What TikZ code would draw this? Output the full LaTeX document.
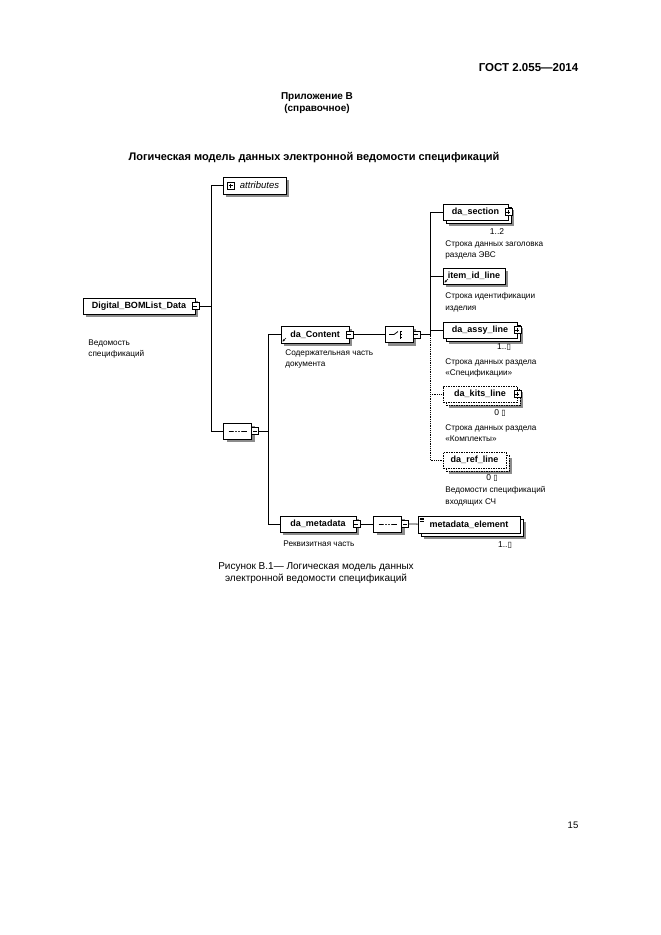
\documentclass[tikz,border=0pt]{standalone}
\usepackage{fontspec}
\setmainfont{Liberation Sans}
\newfontfamily\symfont{DejaVu Sans}
\usetikzlibrary{shapes.misc,arrows.meta,backgrounds}
\newcommand{\unbd}{{\symfont\fontsize{8}{9}\selectfont ▯}}

\begin{document}
\begin{tikzpicture}
        [x=1pt, y=-1pt, line width=0.8pt,
        box/.style={draw, fill=white, line width=0.8pt, minimum height=16pt, inner sep=2pt, font=\bfseries\fontsize{9}{10}\selectfont},
        elem/.style={box},
        many/.style={preaction={draw, fill=white, transform canvas={shift={(3pt,-3pt)}}}, box},
        optmany/.style={preaction={draw, fill=white, dash pattern=on 1.5pt off 1pt, transform canvas={shift={(3pt,-3pt)}}}, box, dash pattern=on 1.5pt off 1pt},
        btn/.style={draw, fill=white, minimum size=7pt, inner sep=0pt, line width=0.5pt},
        minus/.style={btn, path picture={\draw ([xshift=1.5pt]path picture bounding box.west) -- ([xshift=-1.5pt]path picture bounding box.east);}},
        plus/.style={btn, path picture={\draw ([xshift=1.5pt]path picture bounding box.west) -- ([xshift=-1.5pt]path picture bounding box.east);
            \draw ([yshift=-1.5pt]path picture bounding box.north) -- ([yshift=1.5pt]path picture bounding box.south);}},
        comp/.style={chamfered rectangle, chamfered rectangle angle=45, chamfered rectangle xsep=5pt, draw, fill=white, line width=0.8pt,
            minimum width=28pt, minimum height=16pt, inner sep=0pt},
        seq/.style={comp, path picture={
            \draw ([xshift=-9pt]path picture bounding box.center) -- ([xshift=9pt]path picture bounding box.center);
            \foreach \d in {-3,0,3} \fill ([xshift=\d pt]path picture bounding box.center) circle (1.2pt);}},
        choice/.style={comp, path picture={
            \coordinate (pc) at (path picture bounding box.center);
            \draw ([xshift=-10pt]pc) -- ([xshift=-5pt]pc) -- ([shift={(-1pt,3pt)}]pc);
            \draw ([shift={(1pt,-4pt)}]pc) -- ([shift={(1pt,4pt)}]pc);
            \foreach \d in {-3,0,3} {\draw ([shift={(1pt,\d pt)}]pc) -- ([shift={(5pt,\d pt)}]pc);
              \fill ([shift={(4pt,\d pt)}]pc) +(-1pt,-1pt) rectangle +(1pt,1pt);}}},
        refd/.style={path picture={\draw[-{Stealth[length=2.5pt,width=2.5pt]}, line width=0.6pt]
            ([shift={(5pt,5pt)}]path picture bounding box.south west) -- ([shift={(1.5pt,1.5pt)}]path picture bounding box.south west);}},
        datad/.style={path picture={\foreach \d in {2,3.5,5} \draw[line width=0.6pt]
            ([shift={(1.5pt,-\d pt)}]path picture bounding box.north west) -- ++(4pt,0pt);}},
        descr/.style={anchor=north west, align=left, inner sep=0pt, font=\fontsize{8.2}{11.3}\selectfont},
        mult/.style={inner sep=0pt, font=\fontsize{8.5}{9}\selectfont}]

        \useasboundingbox (0,0) rectangle (661,935);

        % page header and title
        \node[font=\bfseries\fontsize{11.5}{13}\selectfont, anchor=east] (gost) at (582,68) {ГОСТ 2.055—2014};
        \node[font=\bfseries\fontsize{10}{12}\selectfont, align=center] (annex) at (317,103) {Приложение В\\(справочное)};
        \node[font=\bfseries\fontsize{11}{13}\selectfont] (title) at (314,158) {Логическая модель данных электронной ведомости спецификаций};

        % root element
        \node[elem, minimum width=112pt] (root) at (139,306) {Digital\_BOMList\_Data};
        \node[minus] (rootx) at (root.east) {};
        \node[descr] at (88,339.5) {Ведомость\\спецификаций};

        \node[elem, font=\itshape\fontsize{9.5}{10}\selectfont, minimum width=63pt, minimum height=17pt] (attr) at (254.5,185.5) {\hspace*{10pt}attributes};
        \node[plus] (attrx) at ([xshift=8pt]attr.west) {};

        \node[seq] (seqa) at (237.5,431) {};
        \node[minus] (seqax) at ([xshift=3pt]seqa.east) {};

        % content part
        \node[elem, refd, minimum width=68pt, minimum height=17pt] (content) at (315,334.5) {da\_Content};
        \node[minus] (contentx) at (content.east) {};
        \node[descr] at (285,349.5) {Содержательная часть\\документа};
        \node[choice] (sel) at (399,334.5) {};
        \node[minus] (selx) at ([xshift=3pt]sel.east) {};

        \node[many, minimum width=65pt] (section) at (475.5,212) {da\_section};
        \node[plus] (sectionx) at (section.east) {};
        \node[mult] at (497,232) {1..2};
        \node[descr] at (445,240.5) {Строка данных заголовка\\раздела ЭВС};

        \node[elem, refd, minimum width=62pt] (item) at (474,276) {item\_id\_line};
        \node[descr] at (445,292.5) {Строка идентификации\\изделия};

        \node[many, minimum width=74pt] (assy) at (480,330) {da\_assy\_line};
        \node[plus] (assyx) at (assy.east) {};
        \node[mult] at (504,347) {1..\unbd};
        \node[descr] at (445,358.5) {Строка данных раздела\\«Спецификации»};

        \node[optmany, minimum width=74pt] (kits) at (480,394) {da\_kits\_line};
        \node[plus] (kitsx) at (kits.east) {};
        \node[mult] at (500,413) {0 \unbd};
        \node[descr] at (445,424.5) {Строка данных раздела\\«Комплекты»};

        \node[optmany, minimum width=63pt] (ref) at (474.5,460) {da\_ref\_line};
        \node[mult] at (492,478) {0 \unbd};
        \node[descr] at (445,486.5) {Ведомости спецификаций\\входящих СЧ};

        % metadata part
        \node[elem, minimum width=76pt] (meta) at (318,524) {da\_metadata};
        \node[minus] (metax) at (meta.east) {};
        \node[descr] at (283,540.5) {Реквизитная часть};
        \node[seq] (seqb) at (387.5,524) {};
        \node[minus] (seqbx) at ([xshift=3pt]seqb.east) {};
        \node[many, datad, minimum width=102pt, minimum height=17pt] (melem) at (469,524.5) {metadata\_element};
        \node[mult] at (505,545) {1..\unbd};

        % grey shadows behind the boxes
        \begin{scope}[on background layer]
          \fill[black!45] ([shift={(3pt,-3pt)}]root.south west) rectangle ([shift={(3pt,-3pt)}]root.north east);
          \fill[black!45] ([shift={(3pt,-3pt)}]attr.south west) rectangle ([shift={(3pt,-3pt)}]attr.north east);
          \fill[black!45] ([shift={(3pt,-3pt)}]content.south west) rectangle ([shift={(3pt,-3pt)}]content.north east);
          \fill[black!45] ([shift={(3pt,-3pt)}]item.south west) rectangle ([shift={(3pt,-3pt)}]item.north east);
          \fill[black!45] ([shift={(3pt,-3pt)}]meta.south west) rectangle ([shift={(3pt,-3pt)}]meta.north east);
          \fill[black!45] ([shift={(6pt,-6pt)}]section.south west) rectangle ([shift={(6pt,-6pt)}]section.north east);
          \fill[black!45] ([shift={(6pt,-6pt)}]assy.south west) rectangle ([shift={(6pt,-6pt)}]assy.north east);
          \fill[black!45] ([shift={(6pt,-6pt)}]kits.south west) rectangle ([shift={(6pt,-6pt)}]kits.north east);
          \fill[black!45] ([shift={(6pt,-6pt)}]ref.south west) rectangle ([shift={(6pt,-6pt)}]ref.north east);
          \fill[black!45] ([shift={(6pt,-6pt)}]melem.south west) rectangle ([shift={(6pt,-6pt)}]melem.north east);
          \fill[black!45] ([shift={(3pt,-3pt)}]seqa.south west) rectangle ([shift={(3pt,-3pt)}]seqa.north east);
          \fill[black!45] ([shift={(3pt,-3pt)}]sel.south west) rectangle ([shift={(3pt,-3pt)}]sel.north east);
          \fill[black!45] ([shift={(3pt,-3pt)}]seqb.south west) rectangle ([shift={(3pt,-3pt)}]seqb.north east);
        \end{scope}

        % branch points
        \coordinate (ja) at (211,306);
        \coordinate (jb) at (268,431);
        \coordinate (jc) at (430,334.5);

        % connectors
        \draw (rootx) -- (ja);
        \draw (ja) |- (attr);
        \draw (ja) |- (seqa);
        \draw (seqax) -- (jb);
        \draw (jb) |- (content);
        \draw (jb) |- (meta);
        \draw (contentx) -- (sel);
        \draw (selx) -- (jc);
        \draw (jc) |- (section);
        \draw (jc) |- (item);
        \draw (jc) |- (assy);
        \draw[densely dotted] (jc) |- (kits);
        \draw[densely dotted] (jc) |- (ref);
        \draw (metax) -- (seqb);
        \draw (seqbx) -- (melem);

        % caption and page number
        \node[font=\fontsize{10}{12}\selectfont, align=center] (cap) at (316,573) {Рисунок В.1— Логическая модель данных\\электронной ведомости спецификаций};
        \node[font=\fontsize{9.5}{11}\selectfont] (page) at (573,825) {15};

\end{tikzpicture}
\end{document}
